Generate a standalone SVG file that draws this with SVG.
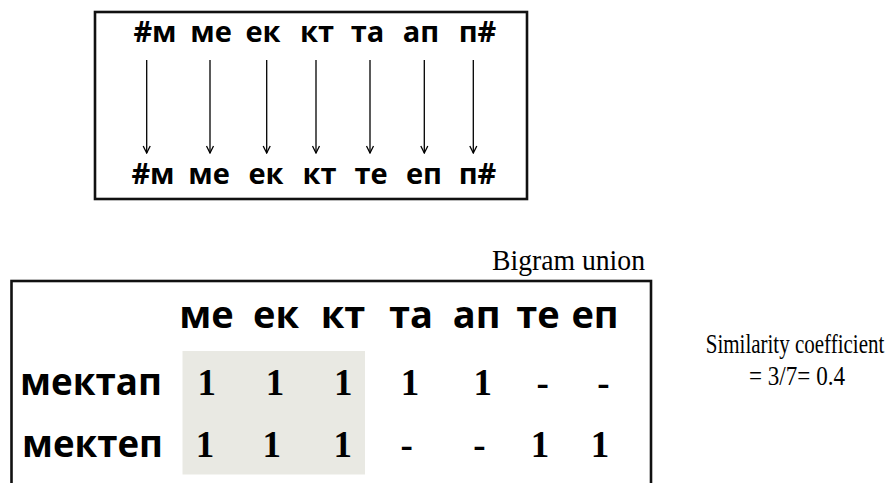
<svg xmlns="http://www.w3.org/2000/svg" width="890" height="483" viewBox="0 0 890 483">
  <defs>
    <marker id="arrow" markerWidth="10" markerHeight="10" refX="5" refY="9" markerUnits="userSpaceOnUse">
      <path d="M1.5,2 L5,9 L8.5,2" fill="none" stroke="#000" stroke-width="1.3"/>
    </marker>
    <style>
      .frame { fill: none; stroke: #111; stroke-width: 2.6; }
      .bg { font-family: "Open Sans", "DejaVu Sans", sans-serif; font-weight: 700; fill: #000; text-anchor: middle; }
      .top { font-size: 29px; }
      .head { font-size: 38px; }
      .row { font-family: "Open Sans", "DejaVu Sans", sans-serif; font-weight: 700; font-size: 37px; fill: #000; }
      .num { font-family: "Liberation Serif", "Times New Roman", serif; font-weight: 700; font-size: 37px; fill: #000; text-anchor: middle; }
      .cap { font-family: "Liberation Serif", "Times New Roman", serif; font-size: 30px; fill: #000; }
      .note { font-family: "Liberation Serif", "Times New Roman", serif; font-size: 21px; fill: #000; text-anchor: middle; }
      .conn { stroke: #000; stroke-width: 1.3; marker-end: url(#arrow); }
    </style>
  </defs>
  <rect width="890" height="483" fill="#fff"/>

  <!-- bigram mapping panel -->
  <g id="mapping">
    <rect class="frame" x="95" y="12" width="432" height="187"/>
    <g id="source-bigrams" class="bg top">
      <text x="155" y="42">#м</text>
      <text x="211" y="42">ме</text>
      <text x="263" y="42">ек</text>
      <text x="317" y="42">кт</text>
      <text x="367.5" y="42">та</text>
      <text x="421" y="42">ап</text>
      <text x="477.5" y="42">п#</text>
    </g>
    <g id="target-bigrams" class="bg top">
      <text x="153" y="184">#м</text>
      <text x="209" y="184">ме</text>
      <text x="266" y="184">ек</text>
      <text x="319.5" y="184">кт</text>
      <text x="371" y="184">те</text>
      <text x="424" y="184">еп</text>
      <text x="477.5" y="184">п#</text>
    </g>
  </g>

  <g id="connectors">
    <line class="conn" x1="146.7" y1="60" x2="146.7" y2="153"/>
    <line class="conn" x1="210" y1="60" x2="210" y2="153"/>
    <line class="conn" x1="266.7" y1="60" x2="266.7" y2="153"/>
    <line class="conn" x1="316" y1="60" x2="316" y2="153"/>
    <line class="conn" x1="370" y1="60" x2="370" y2="153"/>
    <line class="conn" x1="424.3" y1="60" x2="424.3" y2="153"/>
    <line class="conn" x1="473.3" y1="60" x2="473.3" y2="153"/>
  </g>

  <!-- bigram union table -->
  <g id="union-table">
    <text class="cap" x="645" y="270" text-anchor="end" textLength="153" lengthAdjust="spacingAndGlyphs">Bigram union</text>
    <rect x="182.5" y="351" width="182.5" height="123.5" fill="#e9e9e3"/>
    <rect class="frame" x="11.5" y="281" width="639.5" height="220"/>
    <g id="header" class="bg head">
      <text x="206.5" y="328.3">ме</text>
      <text x="276" y="328.3">ек</text>
      <text x="343" y="328.3">кт</text>
      <text x="411" y="328.3">та</text>
      <text x="476.7" y="328.3">ап</text>
      <text x="538" y="328.3">те</text>
      <text x="595" y="328.3">еп</text>
    </g>
    <g id="row-mektap">
      <text class="row" x="20" y="395" textLength="142" lengthAdjust="spacingAndGlyphs">мектап</text>
      <g class="num">
        <text x="206.7" y="395">1</text>
        <text x="275" y="395">1</text>
        <text x="343.3" y="395">1</text>
        <text x="410" y="395">1</text>
        <text x="482.7" y="395">1</text>
        <text x="542.7" y="395">-</text>
        <text x="603.3" y="395">-</text>
      </g>
    </g>
    <g id="row-mektep">
      <text class="row" x="22" y="457" textLength="141" lengthAdjust="spacingAndGlyphs">мектеп</text>
      <g class="num">
        <text x="205" y="457">1</text>
        <text x="271.7" y="457">1</text>
        <text x="342.7" y="457">1</text>
        <text x="406.7" y="457">-</text>
        <text x="479.3" y="457">-</text>
        <text x="540" y="457">1</text>
        <text x="600" y="457">1</text>
      </g>
    </g>
  </g>

  <!-- tall, narrow caption lines -->
  <g id="similarity">
    <text class="note" transform="translate(795,353) scale(1,1.25)">Similarity coefficient</text>
    <text class="note" transform="translate(797,385) scale(1,1.25)" textLength="96" lengthAdjust="spacingAndGlyphs">= 3/7= 0.4</text>
  </g>
</svg>
